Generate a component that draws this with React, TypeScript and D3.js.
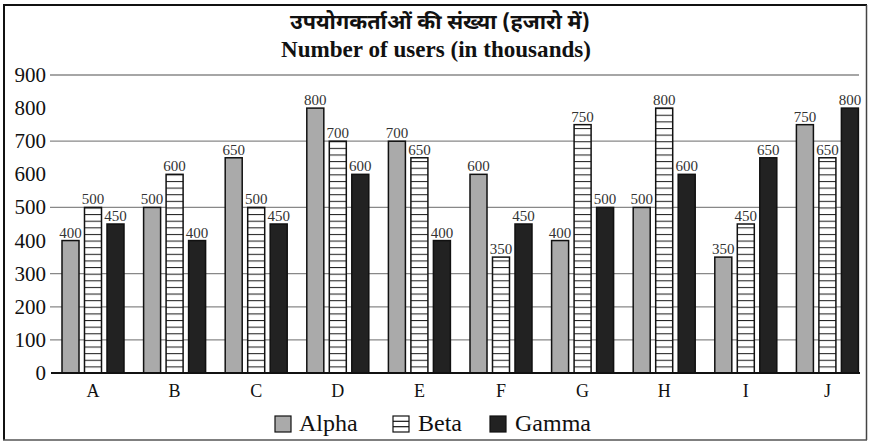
import React from "react";
import * as d3 from "d3";

const categories = ["A", "B", "C", "D", "E", "F", "G", "H", "I", "J"];
const seriesNames = ["Alpha", "Beta", "Gamma"];
const alphaValues = [400, 500, 650, 800, 700, 600, 400, 500, 350, 750];
const betaValues = [500, 600, 500, 700, 650, 350, 750, 800, 450, 650];
const gammaValues = [450, 400, 450, 600, 400, 450, 500, 600, 650, 800];
const yTicks = [0, 100, 200, 300, 400, 500, 600, 700, 800, 900];
const gridValues = [100, 200, 300, 500, 700, 900];
const titleHindi = "उपयोगकर्ताओं की संख्या (हजारो में)";
const titleEnglish = "Number of users (in thousands)";

const W = 872;
const H = 448;
const SERIF = "'Liberation Serif', 'Times New Roman', serif";

export default function App() {
  const y = d3.scaleLinear().domain([0, 900]).range([373, 75]);
  const x = d3.scaleBand<string>().domain(categories).range([52.2, 868.2]).padding(0);
  const half = 31;
  const inner = d3
    .scaleBand<string>()
    .domain(seriesNames)
    .range([-half, half])
    .paddingInner(0.244)
    .paddingOuter(0);
  const values: Record<string, number[]> = {
    Alpha: alphaValues,
    Beta: betaValues,
    Gamma: gammaValues,
  };
  const fills: Record<string, string> = {
    Alpha: "#aaaaaa",
    Beta: "url(#betaStripes)",
    Gamma: "#222222",
  };
  const stripeH = (y(0) - y(100)) / 5;
  const legendItems = [
    { name: "Alpha", box: 275, text: 299 },
    { name: "Beta", box: 393, text: 418 },
    { name: "Gamma", box: 490, text: 515 },
  ];

  return (
    <svg
      width={W}
      height={H}
      style={{ position: "absolute", left: 0, top: 0, background: "#fff" }}
      xmlns="http://www.w3.org/2000/svg"
    >
      <defs>
        <pattern
          id="betaStripes"
          patternUnits="userSpaceOnUse"
          x={0}
          y={y(0)}
          width={10}
          height={stripeH}
        >
          <rect x={0} y={0} width={10} height={stripeH} fill="#fff" />
          <line x1={0} x2={10} y1={0.5} y2={0.5} stroke="#222" strokeWidth={1.1} />
        </pattern>
      </defs>
      <rect x={0} y={0} width={W} height={H} fill="#fff" />
      {/* frame */}
      <line x1={4} x2={4} y1={5} y2={440} stroke="#111" strokeWidth={2} />
      <line x1={3} x2={867} y1={5} y2={5} stroke="#111" strokeWidth={2} />
      <line x1={866.5} x2={866.5} y1={5} y2={440} stroke="#444" strokeWidth={1.5} />
      <line x1={3} x2={867} y1={440} y2={440} stroke="#555" strokeWidth={1.5} />

      {/* titles */}
      <text
        x={440}
        y={29}
        textAnchor="middle"
        fontFamily="'Noto Sans Devanagari', 'Lohit Devanagari', 'Noto Serif Devanagari', 'Mangal', sans-serif"
        fontSize={20}
        fontWeight="bold"
        fill="#111"
        textLength={300}
        lengthAdjust="spacingAndGlyphs"
      >
        {titleHindi}
      </text>
      <text
        x={436}
        y={57}
        textAnchor="middle"
        fontFamily={SERIF}
        fontSize={22.5}
        fontWeight="bold"
        fill="#111"
        textLength={310}
        lengthAdjust="spacingAndGlyphs"
      >
        {titleEnglish}
      </text>

      {/* gridlines */}
      {gridValues.map((v) => (
        <line key={v} x1={50} x2={859} y1={y(v)} y2={y(v)} stroke="#888" strokeWidth={1.3} />
      ))}

      {/* y tick labels */}
      {yTicks.map((v) => (
        <text
          key={v}
          x={46}
          y={y(v) + 7}
          textAnchor="end"
          fontFamily={SERIF}
          fontSize={21}
          fill="#111"
        >
          {v}
        </text>
      ))}

      {/* bars */}
      {categories.map((c, i) => {
        const cx = (x(c) as number) + x.bandwidth() / 2;
        return (
          <g key={c}>
            {seriesNames.map((s) => {
              const v = values[s][i];
              const bx = cx + (inner(s) as number);
              const bw = inner.bandwidth();
              return (
                <g key={s}>
                  <rect
                    x={bx}
                    y={y(v)}
                    width={bw}
                    height={y(0) - y(v)}
                    fill={fills[s]}
                    stroke="#111"
                    strokeWidth={1.5}
                  />
                  <text
                    x={bx + bw / 2}
                    y={y(v) - 3}
                    textAnchor="middle"
                    fontFamily={SERIF}
                    fontSize={15}
                    fill="#333"
                  >
                    {v}
                  </text>
                </g>
              );
            })}
            <text
              x={cx}
              y={397}
              textAnchor="middle"
              fontFamily={SERIF}
              fontSize={18}
              fill="#111"
            >
              {c}
            </text>
          </g>
        );
      })}

      {/* baseline */}
      <line x1={51} x2={860} y1={y(0)} y2={y(0)} stroke="#111" strokeWidth={2} />

      {/* legend */}
      {legendItems.map((it) => (
        <g key={it.name}>
          {it.name === "Beta" ? (
            <g>
              <rect x={it.box} y={416} width={16} height={16} fill="#fff" stroke="#111" strokeWidth={1.2} />
              <line x1={it.box} x2={it.box + 16} y1={421.3} y2={421.3} stroke="#111" strokeWidth={1.2} />
              <line x1={it.box} x2={it.box + 16} y1={426.7} y2={426.7} stroke="#111" strokeWidth={1.2} />
            </g>
          ) : (
            <rect
              x={it.box}
              y={416}
              width={16}
              height={16}
              fill={it.name === "Alpha" ? "#aaaaaa" : "#222"}
              stroke="#111"
              strokeWidth={1.2}
            />
          )}
          <text x={it.text} y={431} fontFamily={SERIF} fontSize={24} fill="#111">
            {it.name}
          </text>
        </g>
      ))}
    </svg>
  );
}
